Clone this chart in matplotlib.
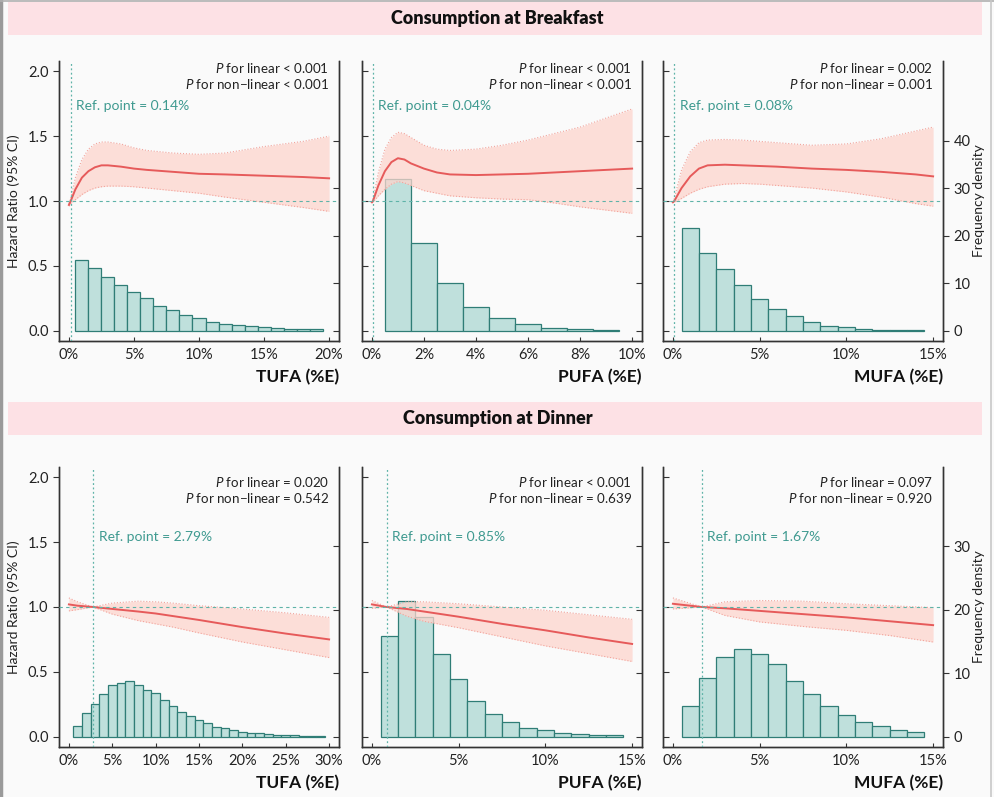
import numpy as np
import matplotlib
matplotlib.use("Agg")
import matplotlib.pyplot as plt
from matplotlib.patches import Rectangle
from matplotlib.lines import Line2D

plt.rcParams['font.family'] = ['Lato', 'DejaVu Sans']
plt.rcParams['mathtext.fontset'] = 'custom'
plt.rcParams['mathtext.it'] = 'Lato:italic'
plt.rcParams['mathtext.rm'] = 'Lato'

# ---- data ----
row_titles = ["Consumption at Breakfast", "Consumption at Dinner"]
fa_names = ["TUFA", "PUFA", "MUFA"]
x_max = [[20, 10, 15], [30, 15, 15]]
x_step = [[5, 2, 5], [5, 5, 5]]
ref_points = [[0.14, 0.04, 0.08], [2.79, 0.85, 1.67]]
p_linear = [["< 0.001", "< 0.001", "= 0.002"], ["= 0.020", "< 0.001", "= 0.097"]]
p_nonlinear = [["< 0.001", "< 0.001", "= 0.001"], ["= 0.542", "= 0.639", "= 0.920"]]

# breakfast curves
b_tufa_x = [0, 0.14, 0.5, 1, 1.5, 2, 2.5, 3, 4, 5, 6, 8, 10, 12, 15, 18, 20]
b_tufa_hr = [0.97, 1.0, 1.09, 1.18, 1.23, 1.26, 1.275, 1.275, 1.265, 1.25, 1.24, 1.225, 1.21, 1.205, 1.195, 1.185, 1.175]
b_tufa_hi = [0.98, 1.02, 1.18, 1.32, 1.40, 1.44, 1.455, 1.455, 1.44, 1.41, 1.39, 1.37, 1.36, 1.37, 1.42, 1.46, 1.50]
b_tufa_lo = [0.96, 0.98, 1.01, 1.05, 1.08, 1.10, 1.11, 1.115, 1.115, 1.11, 1.10, 1.08, 1.06, 1.03, 0.99, 0.95, 0.92]

b_pufa_x = [0, 0.04, 0.25, 0.5, 0.75, 1.0, 1.25, 1.5, 2, 2.5, 3, 4, 5, 6, 7, 8, 9, 10]
b_pufa_hr = [0.99, 1.0, 1.12, 1.23, 1.30, 1.33, 1.32, 1.29, 1.25, 1.22, 1.205, 1.20, 1.205, 1.21, 1.22, 1.23, 1.24, 1.25]
b_pufa_hi = [0.99, 1.01, 1.22, 1.40, 1.49, 1.53, 1.52, 1.49, 1.43, 1.40, 1.39, 1.40, 1.43, 1.47, 1.52, 1.57, 1.64, 1.71]
b_pufa_lo = [0.99, 0.99, 1.04, 1.09, 1.13, 1.15, 1.14, 1.12, 1.08, 1.06, 1.04, 1.025, 1.015, 1.01, 0.985, 0.955, 0.93, 0.905]

b_mufa_x = [0, 0.08, 0.5, 1, 1.5, 2, 3, 4, 5, 6, 8, 10, 12, 14, 15]
b_mufa_hr = [0.99, 1.0, 1.10, 1.19, 1.25, 1.275, 1.28, 1.275, 1.27, 1.265, 1.25, 1.24, 1.225, 1.205, 1.19]
b_mufa_hi = [0.99, 1.02, 1.24, 1.38, 1.45, 1.47, 1.475, 1.47, 1.46, 1.45, 1.43, 1.44, 1.48, 1.54, 1.57]
b_mufa_lo = [0.99, 0.99, 1.02, 1.06, 1.09, 1.11, 1.13, 1.135, 1.13, 1.12, 1.10, 1.07, 1.03, 0.98, 0.96]

# dinner curves
d_tufa_x = [0, 1, 2.79, 5, 8, 10, 12, 15, 20, 25, 30]
d_tufa_hr = [1.02, 1.01, 1.0, 0.985, 0.965, 0.95, 0.93, 0.90, 0.845, 0.795, 0.75]
d_tufa_hi = [1.07, 1.04, 1.0, 1.03, 1.045, 1.04, 1.03, 1.01, 0.985, 0.955, 0.92]
d_tufa_lo = [0.97, 0.98, 1.0, 0.945, 0.895, 0.87, 0.845, 0.80, 0.73, 0.67, 0.61]

d_pufa_x = [0, 0.85, 2, 3, 5, 7.5, 10, 12.5, 15]
d_pufa_hr = [1.02, 1.0, 0.985, 0.965, 0.925, 0.87, 0.82, 0.765, 0.715]
d_pufa_hi = [1.05, 1.0, 1.04, 1.04, 1.025, 1.0, 0.975, 0.94, 0.905]
d_pufa_lo = [0.99, 1.0, 0.93, 0.89, 0.84, 0.77, 0.70, 0.64, 0.58]

d_mufa_x = [0, 1.67, 3, 5, 7.5, 10, 12.5, 15]
d_mufa_hr = [1.025, 1.0, 0.99, 0.97, 0.945, 0.92, 0.89, 0.86]
d_mufa_hi = [1.07, 1.0, 1.04, 1.05, 1.045, 1.025, 1.01, 0.995]
d_mufa_lo = [0.985, 1.0, 0.935, 0.885, 0.85, 0.82, 0.78, 0.73]

# histograms (frequency density, bins of width 1 starting at 0.5)
b_tufa_hist = [14.9, 13.2, 11.3, 9.7, 8.2, 6.8, 5.2, 4.4, 3.3, 2.7, 1.9, 1.5, 1.2, 0.9, 0.7, 0.5, 0.4, 0.35, 0.3]
b_pufa_hist = [32.0, 18.5, 10.1, 5.0, 2.6, 1.4, 0.6, 0.35, 0.2]
b_mufa_hist = [21.6, 16.4, 12.9, 9.6, 6.7, 4.6, 3.0, 1.75, 1.05, 0.77, 0.42, 0.2, 0.15, 0.1]
d_tufa_hist = [1.7, 3.7, 5.2, 6.7, 8.2, 8.5, 8.8, 8.2, 7.3, 6.9, 5.7, 4.8, 3.9, 3.3, 2.6, 2.2, 1.5, 1.3,
               1.0, 0.8, 0.6, 0.5, 0.4, 0.3, 0.25, 0.2, 0.15, 0.15, 0.1]
d_pufa_hist = [15.8, 21.4, 18.9, 13.0, 9.05, 5.6, 3.6, 2.3, 1.4, 1.05, 0.6, 0.37, 0.26, 0.2]
d_mufa_hist = [4.9, 9.2, 12.6, 13.9, 13.1, 11.4, 8.7, 6.8, 4.9, 3.4, 2.3, 1.6, 1.05, 0.7]

curves = [
    [(b_tufa_x, b_tufa_hr, b_tufa_lo, b_tufa_hi), (b_pufa_x, b_pufa_hr, b_pufa_lo, b_pufa_hi),
     (b_mufa_x, b_mufa_hr, b_mufa_lo, b_mufa_hi)],
    [(d_tufa_x, d_tufa_hr, d_tufa_lo, d_tufa_hi), (d_pufa_x, d_pufa_hr, d_pufa_lo, d_pufa_hi),
     (d_mufa_x, d_mufa_hr, d_mufa_lo, d_mufa_hi)],
]
hists = [[b_tufa_hist, b_pufa_hist, b_mufa_hist], [d_tufa_hist, d_pufa_hist, d_mufa_hist]]

# density units per HR unit on each row (aligns both zero lines)
dens_scale = [27.3, 20.45]
dens_ticks = [[0, 10, 20, 30, 40], [0, 10, 20, 30]]

# ---- style ----
TXT = '#222222'
SPINE = '#333333'
TEAL = '#3f9a90'
TEAL_LINE = '#5fb3a8'
BAR_FILL = '#bfe0dc'
BAR_EDGE = '#2f7d76'
RED = '#e65a5a'
CI_FILL = '#fdd5cd'
CI_EDGE = '#f2a49c'
BAND = '#fde1e5'

fig = plt.figure(figsize=(9.95, 7.97), dpi=100, facecolor='#fafafa')

# header bands
for top_px, title in zip([2, 402], row_titles):
    y0 = 1 - (top_px + 33) / 797
    fig.patches.append(Rectangle((0.008, y0), 0.979, 33 / 797, transform=fig.transFigure,
                                 facecolor=BAND, edgecolor='none', zorder=0))
    fig.text(0.5, y0 + 16.5 / 797, title, ha='center', va='center', fontsize=13,
             fontweight='heavy', color='#111111')

# screenshot frame
fig.add_artist(Line2D([0.0015, 0.0015], [0, 1], transform=fig.transFigure, color='#9a9a9a', lw=2.5))
fig.add_artist(Line2D([0, 1], [0.999, 0.999], transform=fig.transFigure, color='#b0b0b0', lw=1.2))
fig.add_artist(Line2D([0.9955, 0.9955], [0, 1], transform=fig.transFigure, color='#c8c8c8', lw=1.2))

lefts = [59, 362, 663]
bottoms = [341, 747]
W, H = 280, 280

for r in range(2):
    for c in range(3):
        x0 = lefts[c] / 995
        y0 = 1 - bottoms[r] / 797
        ax = fig.add_axes([x0, y0, W / 995, H / 797])
        ax2 = ax.twinx()
        ax.set_zorder(ax2.get_zorder() + 1)
        ax.patch.set_visible(False)

        xm = x_max[r][c]
        hist = hists[r][c]
        centers = np.arange(1, len(hist) + 1)
        ax2.bar(centers, hist, width=1.0, color=BAR_FILL, edgecolor=BAR_EDGE, linewidth=0.9, zorder=1)

        xs, hr, lo, hi = curves[r][c]
        ax.fill_between(xs, lo, hi, color=CI_FILL, alpha=0.75, lw=0, zorder=2)
        ax.plot(xs, hi, color=CI_EDGE, lw=0.8, ls=':', zorder=3)
        ax.plot(xs, lo, color=CI_EDGE, lw=0.8, ls=':', zorder=3)
        ax.plot(xs, hr, color=RED, lw=1.4, zorder=4)

        ref = ref_points[r][c]
        ax.axhline(1.0, color=TEAL_LINE, lw=0.8, ls=(0, (3, 3)), zorder=5)
        ax.axvline(ref, color=TEAL_LINE, lw=0.9, ls=(0, (1.5, 2)), zorder=5)

        ax.set_xlim(-0.038 * xm, 1.038 * xm)
        ax.set_ylim(-0.08, 2.08)
        ax2.set_ylim(-0.08 * dens_scale[r], 2.08 * dens_scale[r])

        xt = np.arange(0, xm + 0.01, x_step[r][c])
        ax.set_xticks(xt)
        ax.set_xticklabels([f"{int(v)}%" for v in xt], fontsize=10.5, color=TXT)
        ax.set_yticks([0, 0.5, 1.0, 1.5, 2.0])
        ax2.set_yticks(dens_ticks[r])

        ax.spines['top'].set_visible(False)
        ax2.spines['top'].set_visible(False)
        for a in (ax, ax2):
            for s in ['left', 'right', 'bottom']:
                a.spines[s].set_color(SPINE)
                a.spines[s].set_linewidth(1.0)

        ax.tick_params(axis='x', direction='in', length=3, color=SPINE, pad=5)
        if c == 0:
            ax.tick_params(axis='y', direction='out', length=4, color=SPINE, labelsize=10.5,
                           labelcolor=TXT)
            ax.set_yticklabels(["0.0", "0.5", "1.0", "1.5", "2.0"])
            ax.set_ylabel("Hazard Ratio (95% CI)", fontsize=10, color=TXT, labelpad=6)
        else:
            ax.tick_params(axis='y', direction='in', length=4, color=SPINE, labelleft=False)
        if c == 2:
            ax2.tick_params(axis='y', direction='out', length=4, color=SPINE, labelsize=10.5,
                            labelcolor=TXT)
            ax2.set_ylabel("Frequency density", fontsize=10, color=TXT, labelpad=2)
        else:
            ax2.tick_params(axis='y', direction='in', length=4, color=SPINE, labelright=False)

        ax.set_xlabel(f"{fa_names[c]} (%E)", loc='right', fontsize=12.5, fontweight='bold',
                      color='#111111', labelpad=5)

        py = [0.975, 0.947][r]
        ax.text(0.964, py, r"$P$ for linear " + p_linear[r][c], transform=ax.transAxes,
                ha='right', va='center', fontsize=9.6, color=TXT)
        ax.text(0.964, py - 0.057, r"$P$ for non−linear " + p_nonlinear[r][c], transform=ax.transAxes,
                ha='right', va='center', fontsize=9.6, color=TXT)
        ry = [0.84, 0.751][r]
        ax.annotate(f"Ref. point = {ref:.2f}%", xy=(ref, ry), xycoords=('data', 'axes fraction'),
                    xytext=(4, 0), textcoords='offset points', ha='left', va='center',
                    fontsize=10, color=TEAL)

fig.savefig("out.png", dpi=100, facecolor=fig.get_facecolor())
